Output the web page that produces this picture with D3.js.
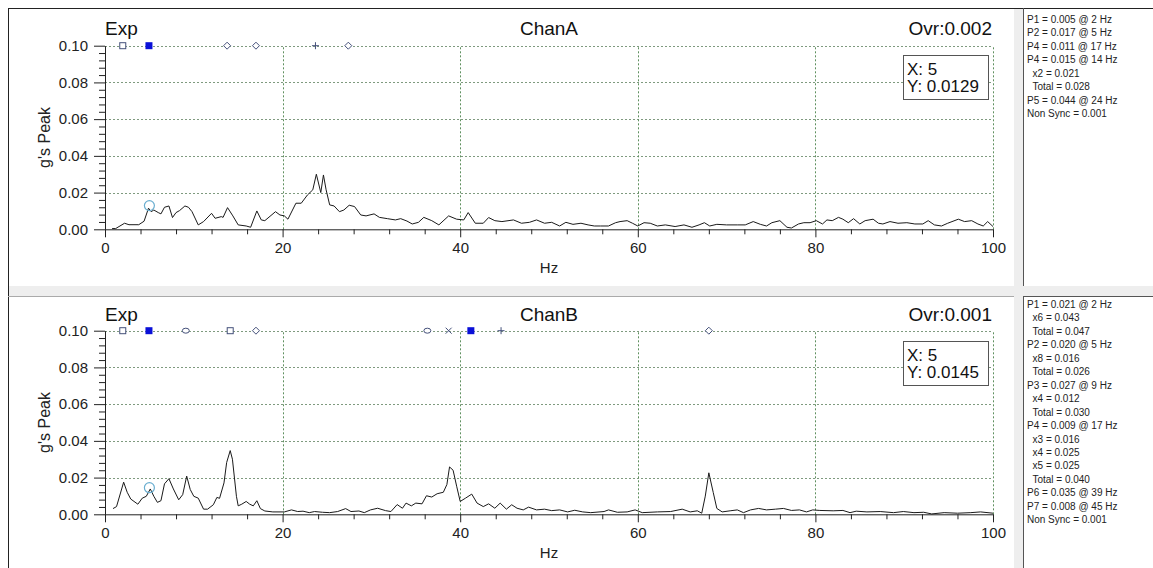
<!DOCTYPE html>
<html><head><meta charset="utf-8">
<script src="https://cdn.jsdelivr.net/npm/d3@7"></script>
<style>
body{margin:0;background:#fff;}
svg{display:block;font-family:"Liberation Sans",Arial,sans-serif;}
</style></head>
<body>
<svg id="c" width="1153" height="568"></svg>
<script>
// ---------- data ----------
const xTicks = [0, 20, 40, 60, 80, 100];
const yTicks = [0, 0.02, 0.04, 0.06, 0.08, 0.10];
const yTickLabels = ["0.00", "0.02", "0.04", "0.06", "0.08", "0.10"];

const chanAHz = [0.8,1.2,2.2,2.7,3.8,4.4,4.9,5.2,5.5,6.0,6.3,6.7,7.2,7.6,8.0,8.4,9.0,9.4,9.8,10.5,11.1,12.0,12.4,13.1,13.3,13.8,14.4,15.0,15.9,16.4,17.1,17.6,18.0,19.2,19.7,20.2,20.6,21.5,22.1,22.8,23.4,23.8,24.3,24.6,24.9,25.3,25.8,26.4,26.9,27.5,28.1,28.8,29.4,30.3,30.9,31.8,32.7,33.3,34.0,34.6,35.3,35.9,36.8,37.6,38.7,39.6,40.4,40.9,41.7,42.6,43.2,43.9,44.7,46.0,46.9,47.8,48.6,49.5,50.3,51.2,51.9,52.7,53.6,54.4,55.1,55.8,56.7,57.5,58.0,58.8,59.4,60.0,60.7,61.4,62.2,63.1,64.2,65.2,66.1,66.9,67.5,68.1,68.9,70.0,71.2,72.1,73.0,73.8,74.5,75.1,76.0,76.8,77.3,78.1,78.7,79.4,80.1,80.8,81.3,81.9,82.6,83.1,83.7,84.3,85.0,85.6,86.5,87.1,87.6,88.4,89.3,90.3,91.2,92.1,92.7,93.4,94.2,94.9,96.1,96.8,97.6,98.3,98.9,99.4,100];
const chanAAmp = [0.0004,0.0004,0.0033,0.0025,0.0025,0.0044,0.0115,0.0096,0.0105,0.0091,0.0084,0.0120,0.0127,0.0064,0.0091,0.0102,0.0127,0.0120,0.0096,0.0024,0.0042,0.0087,0.0060,0.0069,0.0065,0.0118,0.0073,0.0024,0.0018,0.0011,0.0100,0.0051,0.0047,0.0096,0.0078,0.0073,0.0055,0.0142,0.0142,0.0187,0.0215,0.0300,0.0200,0.0296,0.0215,0.0133,0.0127,0.0096,0.0105,0.0131,0.0124,0.0078,0.0073,0.0084,0.0065,0.0058,0.0051,0.0058,0.0045,0.0029,0.0038,0.0065,0.0047,0.0024,0.0073,0.0055,0.0051,0.0091,0.0033,0.0033,0.0064,0.0047,0.0042,0.0051,0.0033,0.0038,0.0051,0.0033,0.0038,0.0018,0.0038,0.0027,0.0033,0.0024,0.0018,0.0018,0.0018,0.0036,0.0042,0.0047,0.0033,0.0018,0.0036,0.0033,0.0018,0.0024,0.0015,0.0024,0.0011,0.0024,0.0036,0.0018,0.0027,0.0024,0.0024,0.0024,0.0042,0.0027,0.0018,0.0036,0.0047,0.0011,0.0007,0.0029,0.0036,0.0036,0.0047,0.0029,0.0051,0.0047,0.0065,0.0055,0.0036,0.0058,0.0029,0.0047,0.0055,0.0033,0.0029,0.0042,0.0033,0.0036,0.0029,0.0029,0.0047,0.0024,0.0018,0.0033,0.0055,0.0042,0.0047,0.0029,0.0018,0.0042,0.0015];

const chanBHz = [0.9,1.3,2.1,2.5,2.9,3.7,4.2,4.65,5.1,5.5,5.9,6.3,6.7,7.2,7.7,8.3,8.75,9.2,9.6,10.0,10.5,11.1,11.55,12.2,12.6,12.9,13.4,13.7,14.1,14.35,14.8,15.0,15.4,15.9,16.3,16.7,17.1,17.5,18.0,18.9,20.2,21.0,21.7,22.3,23.0,23.6,24.5,25.3,26.2,27.1,27.7,28.6,29.2,29.9,30.7,31.6,32.2,32.9,33.5,33.9,34.5,35.0,35.7,36.2,36.8,37.4,38.1,38.5,38.8,39.2,39.6,40.0,40.6,41.3,41.9,42.6,43.2,43.9,44.5,45.2,45.8,46.4,47.1,47.7,48.6,49.5,50.3,51.2,52.1,52.9,53.8,54.7,56.2,56.7,57.7,58.8,59.7,60.5,62.2,63.7,65.0,65.9,66.7,67.2,67.6,68.0,68.5,68.9,69.5,70.4,71.2,71.9,72.7,73.6,74.5,75.5,76.4,77.3,78.2,79.0,79.7,80.5,82.0,83.1,83.9,84.6,85.8,87.3,88.8,89.9,91.1,92.2,93.1,94.5,96.0,97.5,98.6,100];
const chanBAmp = [0.0031,0.0042,0.0175,0.0120,0.0083,0.0055,0.0088,0.0098,0.0138,0.0098,0.0065,0.0074,0.0166,0.0194,0.0138,0.0079,0.0107,0.0208,0.0135,0.0098,0.0088,0.0028,0.0028,0.0052,0.0092,0.0087,0.0171,0.0282,0.0347,0.0300,0.0098,0.0046,0.0055,0.0070,0.0055,0.0046,0.0074,0.0031,0.0018,0.0013,0.0013,0.0024,0.0015,0.0017,0.0009,0.0015,0.0011,0.0009,0.0015,0.0031,0.0015,0.0018,0.0009,0.0024,0.0033,0.0020,0.0015,0.0053,0.0033,0.0061,0.0046,0.0061,0.0057,0.0101,0.0094,0.0112,0.0120,0.0162,0.0258,0.0240,0.0153,0.0070,0.0088,0.0110,0.0061,0.0042,0.0057,0.0033,0.0061,0.0028,0.0052,0.0033,0.0024,0.0039,0.0024,0.0028,0.0020,0.0024,0.0013,0.0022,0.0013,0.0009,0.0015,0.0024,0.0011,0.0013,0.0024,0.0009,0.0013,0.0015,0.0028,0.0013,0.0019,0.0006,0.0099,0.0226,0.0118,0.0032,0.0013,0.0019,0.0024,0.0009,0.0024,0.0032,0.0024,0.0028,0.0032,0.0021,0.0024,0.0013,0.0024,0.0021,0.0019,0.0021,0.0009,0.0017,0.0013,0.0015,0.0009,0.0015,0.0009,0.0011,0.0002,0.0009,0.0006,0.0009,0.0013,0.0006];

// order markers on the 0.10 line: [Hz, symbol]
const chanAMarkHz = [2.0, 4.95, 13.75, 17.0, 23.7, 27.4];
const chanAMarkSym = ["square", "filled", "diamond", "diamond", "plus", "diamond"];
const chanBMarkHz = [2.0, 4.95, 9.1, 14.1, 17.0, 36.3, 38.7, 41.2, 44.6, 68.0];
const chanBMarkSym = ["square", "filled", "circle", "square", "diamond", "circle", "cross", "filled", "plus", "diamond"];

const panelTitles = ["ChanA", "ChanB"];
const panelOvr = ["Ovr:0.002", "Ovr:0.001"];
const cursorHz = [5, 5];
const cursorVal = [0.0129, 0.0145];
const cursorYLabel = ["Y: 0.0129", "Y: 0.0145"];

const notesA = ["P1 = 0.005 @ 2 Hz","P2 = 0.017 @ 5 Hz","P4 = 0.011 @ 17 Hz","P4 = 0.015 @ 14 Hz","  x2 = 0.021","  Total = 0.028","P5 = 0.044 @ 24 Hz","Non Sync = 0.001"];
const notesB = ["P1 = 0.021 @ 2 Hz","  x6 = 0.043","  Total = 0.047","P2 = 0.020 @ 5 Hz","  x8 = 0.016","  Total = 0.026","P3 = 0.027 @ 9 Hz","  x4 = 0.012","  Total = 0.030","P4 = 0.009 @ 17 Hz","  x3 = 0.016","  x4 = 0.025","  x5 = 0.025","  Total = 0.040","P6 = 0.035 @ 39 Hz","P7 = 0.008 @ 45 Hz","Non Sync = 0.001"];

// ---------- drawing ----------
const svg = d3.select("#c");

// frame / backgrounds
svg.append("rect").attr("x",0).attr("y",0).attr("width",1153).attr("height",568).attr("fill","#ffffff");
svg.append("rect").attr("x",8).attr("y",286).attr("width",1145).attr("height",10).attr("fill","#eeeeee");
svg.append("rect").attr("x",1014).attr("y",8).attr("width",9).attr("height",560).attr("fill","#eeeeee");
svg.append("line").attr("x1",8).attr("x2",1153).attr("y1",8.5).attr("y2",8.5).attr("stroke","#222");
svg.append("line").attr("x1",8.5).attr("x2",8.5).attr("y1",8).attr("y2",568).attr("stroke","#222");
svg.append("line").attr("x1",8).attr("x2",1014).attr("y1",296.5).attr("y2",296.5).attr("stroke","#aaa");
svg.append("line").attr("x1",1023.5).attr("x2",1023.5).attr("y1",8).attr("y2",286).attr("stroke","#555");
svg.append("line").attr("x1",1023.5).attr("x2",1023.5).attr("y1",296).attr("y2",568).attr("stroke","#555");
svg.append("line").attr("x1",1023).attr("x2",1153).attr("y1",296.5).attr("y2",296.5).attr("stroke","#555");

const x = d3.scaleLinear().domain([0,100]).range([105,993]);
const panels = [
  {y0:229.3, y1:45.7, hz:chanAHz, amp:chanAAmp, mHz:chanAMarkHz, mSym:chanAMarkSym, titleY:35, notes:notesA, notesY:23, boxY:55, boxH:44},
  {y0:514.3, y1:330.7, hz:chanBHz, amp:chanBAmp, mHz:chanBMarkHz, mSym:chanBMarkSym, titleY:321, notes:notesB, notesY:308, boxY:341, boxH:44}
];

const minorY = d3.range(0.004, 0.1, 0.004).filter(v => Math.abs(v/0.02 - Math.round(v/0.02)) > 1e-6);
const minorX = d3.range(4, 100, 4).filter(v => v % 20 !== 0);

panels.forEach((p, i) => {
  const y = d3.scaleLinear().domain([0,0.1]).range([p.y0, p.y1]);
  const g = svg.append("g");

  // grid
  g.append("g").selectAll("line").data(yTicks.slice(1)).join("line")
    .attr("x1", x(0)).attr("x2", x(100))
    .attr("y1", d => Math.round(y(d))+0.5).attr("y2", d => Math.round(y(d))+0.5)
    .attr("stroke", "#7f9a7f").attr("stroke-dasharray","2,2");
  g.append("g").selectAll("line").data(xTicks.slice(1)).join("line")
    .attr("y1", y(0)).attr("y2", y(0.1))
    .attr("x1", d => Math.round(x(d))+0.5).attr("x2", d => Math.round(x(d))+0.5)
    .attr("stroke", "#5f905f").attr("stroke-dasharray","2,2");

  // axes
  const yAx = g.append("g").attr("transform",`translate(${x(0)},0)`)
    .call(d3.axisLeft(y).tickValues(yTicks).tickFormat((d,k)=>yTickLabels[k]).tickSizeInner(11).tickSizeOuter(0).tickPadding(6));
  yAx.select(".domain").attr("stroke","#222");
  yAx.selectAll(".tick line").attr("stroke","#222");
  yAx.selectAll("text").attr("font-size",15).attr("fill","#222").attr("font-family","Liberation Sans, Arial, sans-serif");
  const yMin = g.append("g").attr("transform",`translate(${x(0)},0)`)
    .call(d3.axisLeft(y).tickValues(minorY).tickFormat("").tickSizeInner(6).tickSizeOuter(0));
  yMin.select(".domain").remove();
  yMin.selectAll("line").attr("stroke","#222");

  const xAx = g.append("g").attr("transform",`translate(0,${y(0)})`)
    .call(d3.axisBottom(x).tickValues(xTicks).tickSizeInner(8).tickSizeOuter(0).tickPadding(5));
  xAx.select(".domain").attr("stroke","#222");
  xAx.selectAll(".tick line").attr("stroke","#222");
  xAx.selectAll("text").attr("font-size",15).attr("fill","#222").attr("font-family","Liberation Sans, Arial, sans-serif");
  const xMin = g.append("g").attr("transform",`translate(0,${y(0)})`)
    .call(d3.axisBottom(x).tickValues(minorX).tickFormat("").tickSizeInner(5).tickSizeOuter(0));
  xMin.select(".domain").remove();
  xMin.selectAll("line").attr("stroke","#222");

  // labels
  g.append("text").attr("x",549).attr("y",p.y0+44).attr("text-anchor","middle").attr("font-size",15).attr("fill","#222").text("Hz");
  g.append("text").attr("transform",`translate(50,${(p.y0+p.y1)/2}) rotate(-90)`).attr("text-anchor","middle").attr("font-size",16).attr("fill","#222").text("g's Peak");
  g.append("text").attr("x",105).attr("y",p.titleY).attr("font-size",19).attr("fill","#111").text("Exp");
  g.append("text").attr("x",549).attr("y",p.titleY).attr("text-anchor","middle").attr("font-size",19).attr("fill","#111").text(panelTitles[i]);
  g.append("text").attr("x",992).attr("y",p.titleY).attr("text-anchor","end").attr("font-size",19).attr("fill","#111").text(panelOvr[i]);

  // spectrum
  const pts = p.hz.map((h,k)=>[h,p.amp[k]]);
  g.append("path").datum(pts)
    .attr("d", d3.line().x(d=>x(d[0])).y(d=>y(d[1])))
    .attr("fill","none").attr("stroke","#1a1a1a").attr("stroke-width",1);

  // markers on top line
  const my = y(0.1);
  p.mHz.forEach((h,k) => {
    const cx = x(h), s = p.mSym[k];
    const col = "#44507a";
    if (s === "square") g.append("rect").attr("x",cx-3).attr("y",my-3).attr("width",6).attr("height",6).attr("fill","#fff").attr("stroke",col);
    else if (s === "filled") g.append("rect").attr("x",cx-3.5).attr("y",my-3.5).attr("width",7).attr("height",7).attr("fill","#0a10d8");
    else if (s === "diamond") g.append("path").attr("d",`M${cx},${my-3.5}L${cx+3.5},${my}L${cx},${my+3.5}L${cx-3.5},${my}Z`).attr("fill","#fff").attr("stroke",col);
    else if (s === "circle") g.append("ellipse").attr("cx",cx).attr("cy",my).attr("rx",3.5).attr("ry",2.5).attr("fill","#fff").attr("stroke",col);
    else if (s === "plus") g.append("path").attr("d",`M${cx-3.5},${my}H${cx+3.5}M${cx},${my-3.5}V${my+3.5}`).attr("stroke",col);
    else if (s === "cross") g.append("path").attr("d",`M${cx-3},${my-3}L${cx+3},${my+3}M${cx-3},${my+3}L${cx+3},${my-3}`).attr("stroke",col);
  });

  // cursor
  g.append("circle").attr("cx",x(cursorHz[i])).attr("cy",y(cursorVal[i])).attr("r",5).attr("fill","none").attr("stroke","#6aaed0").attr("stroke-width",1.2);
  g.append("rect").attr("x",903.5).attr("y",p.boxY+0.5).attr("width",85).attr("height",p.boxH).attr("fill","#fff").attr("stroke","#555");
  g.append("text").attr("x",907).attr("y",p.boxY+20).attr("font-size",17).attr("fill","#111").text("X: " + cursorHz[i]);
  g.append("text").attr("x",907).attr("y",p.boxY+37).attr("font-size",17).attr("fill","#111").text(cursorYLabel[i]);

  // notes
  g.append("g").selectAll("text").data(p.notes).join("text")
    .attr("x",1027).attr("y",(d,k)=>p.notesY + k*13.45)
    .attr("font-size",10).attr("fill","#222").attr("xml:space","preserve")
    .style("white-space","pre").text(d=>d);
});
</script>
</body></html>
